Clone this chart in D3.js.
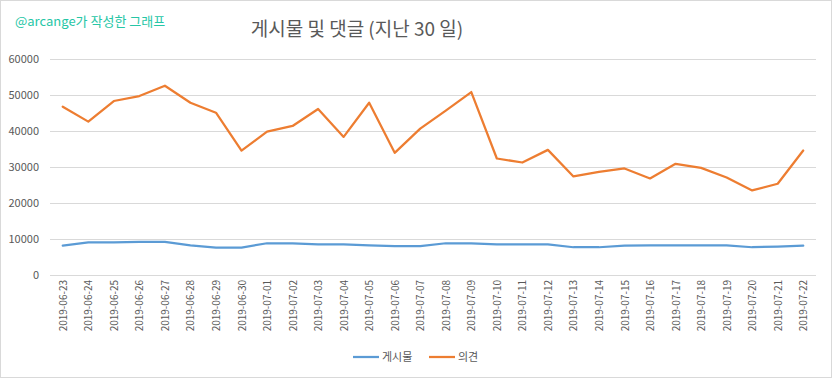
<!DOCTYPE html>
<html>
<head>
<meta charset="utf-8">
<script src="https://cdn.jsdelivr.net/npm/d3@7"></script>
<style>
  body { margin: 0; background: #fff; }
  svg { display: block; font-family: "Noto Sans CJK KR", "Noto Sans", sans-serif; }
</style>
</head>
<body>
<svg id="svg" width="832" height="378"></svg>
<script>
// 날짜 (지난 30 일)
var dates = ['2019-06-23', '2019-06-24', '2019-06-25', '2019-06-26', '2019-06-27', '2019-06-28',
    '2019-06-29', '2019-06-30', '2019-07-01', '2019-07-02', '2019-07-03', '2019-07-04',
    '2019-07-05', '2019-07-06', '2019-07-07', '2019-07-08', '2019-07-09', '2019-07-10',
    '2019-07-11', '2019-07-12', '2019-07-13', '2019-07-14', '2019-07-15', '2019-07-16',
    '2019-07-17', '2019-07-18', '2019-07-19', '2019-07-20', '2019-07-21', '2019-07-22']

var posts = [8030, 8950, 8950, 9050, 9050, 8120, 7480, 7480, 8680, 8680, 8400, 8400,
    8120, 7850, 7850, 8680, 8680, 8400, 8400, 8400, 7570, 7570, 8030, 8120,
    8120, 8120, 8120, 7570, 7750, 8030]

var comments = [46620, 42460, 48190, 49570, 52430, 47720, 44950, 34430, 39690, 41260, 45970, 38220,
    47720, 33790, 40520, 45510, 50680, 32220, 31110, 34620, 27230, 28520, 29450, 26680,
    30740, 29630, 26950, 23350, 25200, 34430]

var yTicks = [0, 10000, 20000, 30000, 40000, 50000, 60000]

var seriesNames = ['게시물', '의견']
var colors = ['#5b9bd5', '#ed7d31']

var svg = d3.select('#svg')

// 바깥 테두리
svg.append('rect')
    .attr('x', 0.5).attr('y', 0.5)
    .attr('width', 831).attr('height', 377)
    .attr('fill', '#fff')
    .attr('stroke', '#d9d9d9')

svg.append('text')
    .attr('x', 15).attr('y', 26)
    .attr('fill', '#26c6a6')
    .style('font-size', '13px')
    .text('@arcange가 작성한 그래프')

svg.append('text')
    .attr('x', 357).attr('y', 36)
    .attr('text-anchor', 'middle')
    .attr('fill', '#595959')
    .style('font-size', '19px')
    .text('게시물 및 댓글 (지난 30 일)')

var x = d3.scaleBand().domain(dates).range([50, 816])
var y = d3.scaleLinear().domain([0, 60000]).range([274.5, 58.5])

// 격자선
svg.append('g').selectAll('line')
    .data(yTicks)
    .enter().append('line')
    .attr('x1', 50).attr('x2', 816)
    .attr('y1', function(d) { return Math.round(y(d)) + 0.5 })
    .attr('y2', function(d) { return Math.round(y(d)) + 0.5 })
    .attr('stroke', '#d9d9d9')

svg.append('g').selectAll('text')
    .data(yTicks)
    .enter().append('text')
    .attr('x', 39)
    .attr('y', function(d) { return y(d) + 4 })
    .attr('text-anchor', 'end')
    .attr('fill', '#595959')
    .style('font-size', '11px')
    .text(function(d) { return d })

svg.append('g').selectAll('text')
    .data(dates)
    .enter().append('text')
    .attr('transform', function(d) {
        return 'translate(' + (x(d) + x.bandwidth() / 2 + 4) + ',280) rotate(-90)'
    })
    .attr('text-anchor', 'end')
    .attr('fill', '#595959')
    .style('font-size', '10px')
    .text(function(d) { return d })

var line = d3.line()
    .x(function(d, i) { return x(dates[i]) + x.bandwidth() / 2 })
    .y(function(d) { return y(d) })

;[posts, comments].forEach(function(values, i) {
    svg.append('path')
        .datum(values)
        .attr('d', line)
        .attr('fill', 'none')
        .attr('stroke', colors[i])
        .attr('stroke-width', 2.25)
        .attr('stroke-linejoin', 'round')
        .attr('stroke-linecap', 'round')
})

// 범례
var legendX = [353, 429]
seriesNames.forEach(function(name, i) {
    svg.append('line')
        .attr('x1', legendX[i]).attr('x2', legendX[i] + 26)
        .attr('y1', 357).attr('y2', 357)
        .attr('stroke', colors[i])
        .attr('stroke-width', 2.25)
    svg.append('text')
        .attr('x', legendX[i] + 29).attr('y', 361)
        .attr('fill', '#595959')
        .style('font-size', '11px')
        .text(name)
})
</script>
</body>
</html>
